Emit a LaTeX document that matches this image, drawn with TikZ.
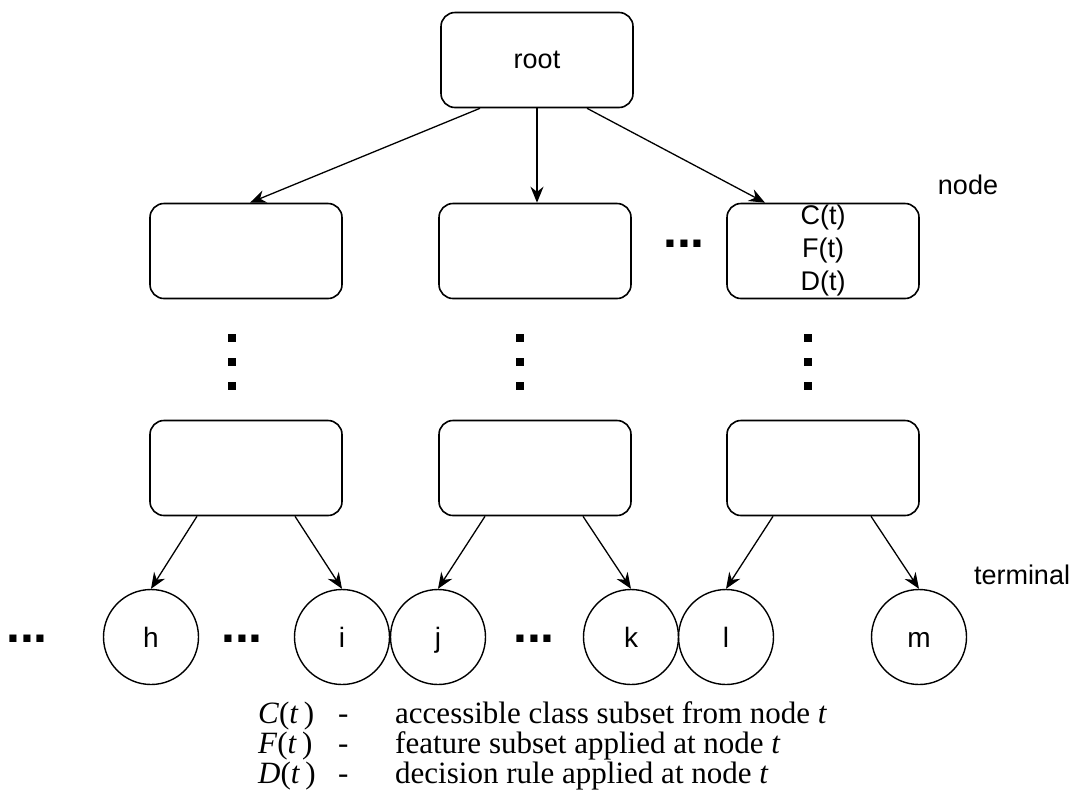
\documentclass[tikz,border=0pt]{standalone}
\usepackage{fontspec}
\setmainfont{Liberation Serif}
\newfontfamily\diagfont{Liberation Sans}
\usetikzlibrary{arrows.meta, positioning}

\begin{document}
\begin{tikzpicture}[x=1pt, y=-1pt,
  box/.style={draw, line width=1.6pt, rounded corners=14pt, minimum width=192pt, minimum height=95pt,
    inner sep=0pt, align=center, font=\diagfont\fontsize{27}{33}\selectfont},
  leaf/.style={draw, circle, line width=1.4pt, minimum size=95pt, inner sep=0pt,
    text height=20pt, text depth=0pt, font=\diagfont\fontsize{28}{28}\selectfont},
  edge/.style={line width=1.3pt, -{Stealth[length=16pt, width=13pt]}},
  lbl/.style={font=\diagfont\fontsize{27}{27}\selectfont},
  more/.style={anchor=base, inner sep=0pt, font=\diagfont\bfseries\fontsize{50}{50}\selectfont},
  legend/.style={anchor=base west, inner sep=0pt, font=\fontsize{31}{31}\selectfont}]
\useasboundingbox (0,0) rectangle (1078,801);

% tree
\node[box] (root) at (537,60) {root};
\node[box] (a) at (246,251) {};
\node[box] (b) at (535,251) {};
\node[box] (c) at (823,251) {C(t)\\F(t)\\D(t)};
\node[box] (a2) at (246,468) {};
\node[box] (b2) at (535,468) {};
\node[box] (c2) at (823,468) {};

\node[leaf] (h) at (151,637) {h};
\node[leaf] (i) at (342,637) {i};
\node[leaf] (j) at (438,637) {j};
\node[leaf] (k) at (631,637) {k};
\node[leaf] (l) at (726,637) {l};
\node[leaf] (m) at (919,637) {m};

\draw[edge] ([xshift=-57pt]root.south) -- ([xshift=4pt]a.north);
\draw[edge] (root.south) -- (root.south |- b.north);
\draw[edge] ([xshift=50pt]root.south) -- ([xshift=-58pt]c.north);

\draw[edge] ([xshift=-49pt]a2.south) -- (h.north);
\draw[edge] ([xshift=49pt]a2.south) -- (i.north);
\draw[edge] ([xshift=-50pt]b2.south) -- (j.north);
\draw[edge] ([xshift=48pt]b2.south) -- (k.north);
\draw[edge] ([xshift=-50pt]c2.south) -- (l.north);
\draw[edge] ([xshift=48pt]c2.south) -- (m.north);

% skipped levels and siblings
\foreach \x in {232,520,808}
  \foreach \y in {338,362,386}
    \fill (\x-4,\y-4) rectangle +(8,8);
\node[more] (d1) at (27,642) {...};
\node[more] (d2) at (242,642) {...};
\node[more] (d3) at (534,642) {...};
\node[more] (d4) at (684,247) {...};

\node[lbl] (nodelbl) at (968,185) {node};
\node[lbl] (termlbl) at (1022,575) {terminal};

% legend
\node[legend] (cs) at (258,723) {\textit{C}(\textit{t}\,)};
\node[legend] (cd) at (338,723) {-};
\node[legend] (ct) at (395,723) {accessible class subset from node \textit{t}};
\node[legend] (fs) at (258,753) {\textit{F}(\textit{t}\,)};
\node[legend] (fd) at (338,753) {-};
\node[legend] (ft) at (395,753) {feature subset applied at node \textit{t}};
\node[legend] (ds) at (258,783) {\textit{D}(\textit{t}\,)};
\node[legend] (dd) at (338,783) {-};
\node[legend] (dt) at (395,783) {decision rule applied at node \textit{t}};
\end{tikzpicture}
\end{document}
